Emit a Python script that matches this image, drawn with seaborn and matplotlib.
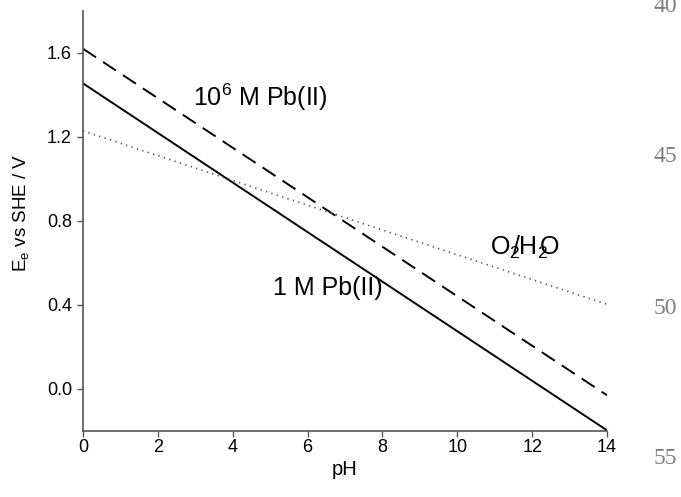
import numpy as np
import pandas as pd
import matplotlib
matplotlib.use('Agg')
import matplotlib.pyplot as plt
import seaborn as sns

# Data: equilibrium potentials vs pH (end points)
ph = [0, 14]
e_pb_1m = [1.455, -0.197]      # 1 M Pb(II)
e_pb_1e6 = [1.62, -0.03]       # 10^6 M Pb(II)
e_o2_h2o = [1.229, 0.403]      # O2/H2O

yticks = [0.0, 0.4, 0.8, 1.2, 1.6]
xticks = [0, 2, 4, 6, 8, 10, 12, 14]
line_numbers = ['40', '45', '50', '55']

df = pd.DataFrame({'pH': ph * 3,
                   'E': e_pb_1m + e_pb_1e6 + e_o2_h2o,
                   'series': ['1M'] * 2 + ['1e6'] * 2 + ['O2'] * 2})

sns.set_style('ticks')
plt.rcParams['font.family'] = ['Liberation Sans', 'DejaVu Sans']
plt.rcParams['mathtext.default'] = 'regular'
plt.rcParams['text.color'] = 'black'

fig = plt.figure(figsize=(6.81, 4.97), dpi=100)
ax = fig.add_axes([0.1219, 0.1328, 0.7695, 0.8452])

# Lines
sns.lineplot(data=df[df.series == '1M'], x='pH', y='E', ax=ax,
             color='black', linewidth=1.4)
sns.lineplot(data=df[df.series == '1e6'], x='pH', y='E', ax=ax,
             color='black', linewidth=1.4)
ax.lines[-1].set_dashes([8, 4.3])
sns.lineplot(data=df[df.series == 'O2'], x='pH', y='E', ax=ax,
             color='#555555', linewidth=1.2)
ax.lines[-1].set_dashes([0.8, 2.6])

ax.set_xlim(0, 14)
ax.set_ylim(-0.2, 1.8)
ax.set_xticks(xticks)
ax.set_yticks(yticks)
ax.set_yticklabels([f'{v:.1f}' for v in yticks])
ax.tick_params(labelsize=13, length=4, width=1, color='#555555',
               labelcolor='black', direction='out')
ax.tick_params(axis='y', pad=4)
ax.tick_params(axis='x', pad=2)

for side in ['left', 'bottom']:
    ax.spines[side].set_color('#555555')
    ax.spines[side].set_linewidth(1.2)
sns.despine(ax=ax)

ax.set_xlabel('pH', fontsize=14.5, color='black', labelpad=3)
ax.set_ylabel('E$_e$ vs SHE / V', fontsize=13.5, color='black')
ax.yaxis.set_label_coords(-0.1, 0.52)

# Annotations
ax.text(2.94, 1.346, '10$^6$ M Pb(II)', fontsize=18, va='baseline')
ax.text(5.08, 0.447, '1 M Pb(II)', fontsize=18, va='baseline')
ax.text(10.87, 0.637, r'O$_2\!\!$/H$_2\!\!$O', fontsize=18, va='baseline')

# Manuscript line numbers in right margin
for i, lab in enumerate(line_numbers):
    fig.text(0.96, 1.0 - (i * 151 + 6) / 497, lab, fontsize=17,
             family='Liberation Serif', color='#808080',
             ha='left', va='center')

fig.savefig('out.png', dpi=100)
